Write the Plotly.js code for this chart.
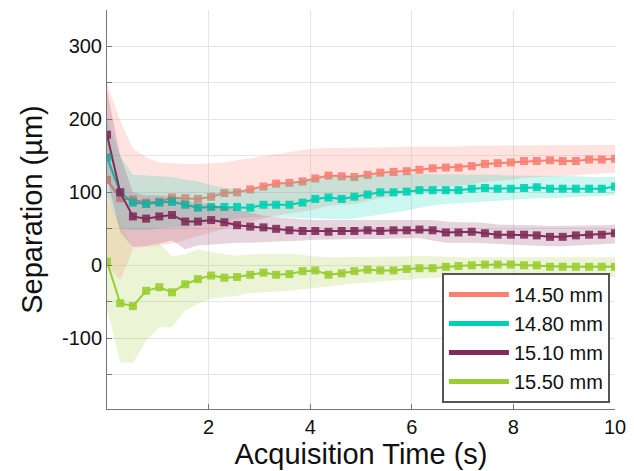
<!DOCTYPE html>
<html><head><meta charset="utf-8">
<script src="https://cdn.plot.ly/plotly-3.0.1.min.js"></script>
<style>html,body{margin:0;padding:0;background:#fff}</style>
</head><body><div id="chart" style="width:634px;height:471px"></div>
<script>
const time = [0, 0.26, 0.51, 0.77, 1.03, 1.28, 1.54, 1.79, 2.05, 2.31, 2.56, 2.82, 3.08, 3.33, 3.59, 3.85, 4.10, 4.36, 4.62, 4.87,
  5.13, 5.38, 5.64, 5.90, 6.15, 6.41, 6.67, 6.92, 7.18, 7.44, 7.69, 7.95, 8.21, 8.46, 8.72, 8.97, 9.23, 9.49, 9.74, 10];

const names = ['14.50 mm', '14.80 mm', '15.10 mm', '15.50 mm'];
const colors = ['rgb(250,128,114)', 'rgb(0,208,178)', 'rgb(128,45,90)', 'rgb(154,205,50)'];
const bandColors = ['rgba(250,128,114,0.22)', 'rgba(0,208,178,0.2)', 'rgba(128,45,90,0.2)', 'rgba(154,205,50,0.2)'];

const xTickVals = [2, 4, 6, 8, 10];
const yTickVals = [-150, -100, -50, 0, 50, 100, 150, 200, 250, 300];
const yTickText = ['', '-100', '', '0', '', '100', '', '200', '', '300'];

const sep1450 = [117, 92, 90, 86, 87, 93, 92, 91, 94, 99, 100, 104, 108, 112, 113, 115, 119, 123, 122, 121,
  124, 127, 128, 129, 131, 133, 134, 134, 136, 139, 140, 141, 143, 143, 144, 143, 143, 145, 145, 146];
const hi1450 = [249, 198, 160, 148, 141, 140, 139, 139, 140, 141, 144, 147, 150, 152, 155, 158, 160, 161, 161, 161,
  161, 162, 162, 163, 163, 162, 163, 163, 164, 164, 164, 165, 165, 165, 165, 165, 165, 165, 165, 165];
const lo1450 = [0, -20, 22, 24, 27, 30, 35, 40, 45, 50, 55, 60, 64, 68, 71, 73, 77, 82, 83, 84,
  88, 92, 95, 98, 102, 106, 108, 109, 111, 114, 116, 117, 120, 121, 122, 122, 123, 125, 126, 127];

const sep1480 = [148, 100, 86, 84, 86, 87, 83, 79, 80, 80, 80, 79, 83, 83, 83, 86, 91, 93, 91, 94,
  97, 100, 100, 101, 103, 103, 103, 103, 105, 106, 105, 105, 106, 107, 105, 105, 105, 105, 105, 108];
const hi1480 = [200, 150, 124, 123, 122, 121, 118, 115, 110, 107, 104, 103, 106, 110, 113, 116, 119, 121, 121, 122,
  123, 124, 125, 125, 125, 125, 124, 124, 124, 124, 124, 123, 123, 123, 122, 122, 122, 121, 121, 121];
const lo1480 = [95, 50, 48, 48, 50, 52, 52, 54, 58, 61, 64, 66, 67, 67, 66, 65, 64, 63, 63, 64,
  66, 69, 72, 75, 79, 82, 84, 86, 87, 88, 89, 90, 91, 92, 92, 93, 94, 94, 95, 96];

const sep1510 = [179, 100, 67, 64, 67, 69, 60, 60, 62, 59, 55, 53, 52, 50, 48, 47, 47, 46, 47, 47,
  48, 47, 48, 48, 49, 48, 45, 45, 46, 44, 42, 42, 42, 41, 39, 39, 41, 42, 42, 44];
const hi1510 = [240, 150, 100, 96, 96, 95, 88, 85, 84, 80, 76, 72, 68, 66, 64, 63, 62, 62, 62, 62,
  62, 62, 62, 63, 63, 62, 60, 59, 59, 58, 56, 56, 55, 55, 54, 54, 54, 55, 55, 56];
const lo1510 = [120, 45, 25, 26, 30, 34, 22, 27, 28, 30, 31, 31, 32, 33, 33, 34, 35, 35, 35, 36,
  36, 36, 36, 37, 37, 34, 31, 31, 31, 30, 29, 28, 28, 27, 26, 26, 27, 28, 29, 30];

const sep1550 = [5, -52, -56, -35, -30, -37, -26, -19, -14, -17, -16, -13, -10, -13, -12, -8, -7, -13, -11, -8,
  -6, -7, -7, -5, -4, -4, -2, -1, 0, 1, 1, 1, 0, 0, -2, -2, -2, -2, -2, -2];
const hi1550 = [90, 60, 22, 24, 30, 12, 15, 22, 18, 15, 13, 15, 15, 16, 16, 14, 12, 11, 11, 11,
  11, 11, 12, 12, 13, 12, 11, 11, 11, 11, 11, 11, 11, 11, 11, 11, 11, 11, 11, 11];
const lo1550 = [-60, -133, -134, -103, -85, -85, -62, -53, -46, -44, -42, -38, -37, -36, -35, -33, -31, -29, -27, -25,
  -24, -23, -21, -20, -18, -17, -17, -17, -16, -16, -16, -16, -16, -16, -16, -16, -16, -16, -16, -16];

const series = [
  {y: sep1450, hi: hi1450, lo: lo1450},
  {y: sep1480, hi: hi1480, lo: lo1480},
  {y: sep1510, hi: hi1510, lo: lo1510},
  {y: sep1550, hi: hi1550, lo: lo1550}
];

const traces = [];
const timeRev = time.slice().reverse();
series.forEach((s, k) => {
  traces.push({
    x: time.concat(timeRev), y: s.hi.concat(s.lo.slice().reverse()),
    type: 'scatter', mode: 'lines', fill: 'toself', fillcolor: bandColors[k],
    line: {width: 0, color: bandColors[k]}, hoverinfo: 'skip', showlegend: false
  });
  traces.push({
    x: time, y: s.y, type: 'scatter', mode: 'lines+markers', name: names[k],
    line: {color: colors[k], width: 2},
    marker: {symbol: 'square', size: 8, color: colors[k], opacity: 0.9},
    showlegend: false
  });
});
names.forEach((n, k) => {
  traces.push({x: [null], y: [null], type: 'scatter', mode: 'lines', name: n,
    line: {color: colors[k], width: 5}, showlegend: true});
});

const font = 'Liberation Sans, Arial, sans-serif';
const layout = {
  width: 634, height: 471,
  margin: {l: 107, r: 19, t: 10, b: 62},
  paper_bgcolor: '#fff', plot_bgcolor: '#fff',
  font: {family: font, color: '#111'},
  showlegend: true,
  legend: {
    x: 0.99, xanchor: 'right', y: 0.015, yanchor: 'bottom',
    bgcolor: '#fff', bordercolor: '#555', borderwidth: 2,
    font: {family: font, size: 20, color: '#111'},
    itemwidth: 60, tracegroupgap: 0
  },
  xaxis: {
    range: [0, 10], tickmode: 'array', tickvals: xTickVals,
    ticks: 'inside', ticklen: 5, tickcolor: '#777',
    showline: true, linecolor: '#777', linewidth: 1,
    showgrid: true, gridcolor: '#e6e6e6', zeroline: false,
    tickfont: {family: font, size: 20, color: '#111'},
    title: {text: 'Acquisition Time (s)', font: {family: font, size: 29, color: '#111'}, standoff: 0}
  },
  yaxis: {
    range: [-197, 350], tickmode: 'array', tickvals: yTickVals, ticktext: yTickText,
    ticks: 'inside', ticklen: 5, tickcolor: '#777',
    showline: true, linecolor: '#777', linewidth: 1,
    showgrid: true, gridcolor: '#e6e6e6', zeroline: false,
    tickfont: {family: font, size: 20, color: '#111'},
    title: {text: 'Separation (µm)', font: {family: font, size: 29, color: '#111'}, standoff: 10}
  }
};

Plotly.newPlot('chart', traces, layout, {displayModeBar: false, staticPlot: true});
</script>
</body></html>
